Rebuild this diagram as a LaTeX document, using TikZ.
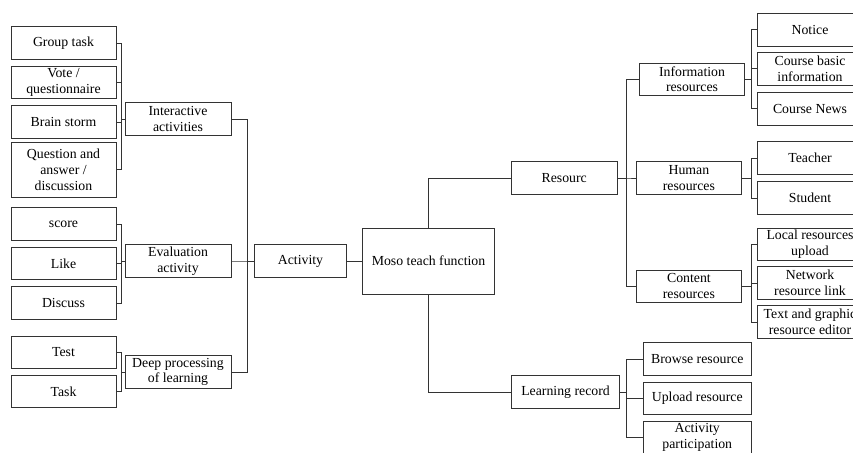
\documentclass[tikz,border=0pt]{standalone}
\usepackage{fontspec}
\setmainfont{Liberation Serif}
\begin{document}
\begin{tikzpicture}[x=1pt,y=-1pt,
	box/.style={draw=black!80, line width=0.8pt, align=center, inner sep=0pt,
		minimum height=32.6pt, font=\fontsize{13.8}{15.8}\selectfont},
	leaf/.style={box, minimum width=105pt},
	mid/.style={box, minimum width=106pt},
	link/.style={draw=black!80, line width=0.8pt}]
	\useasboundingbox (0,0) rectangle (853,452);
	% leaves on the left
	\foreach \n/\y/\t in {gtask/43/{Group task}, vote/82.5/{Vote /\\questionnaire},
		brain/122/{Brain storm}, score/224/{score}, like/263.5/{Like},
		discuss/303/{Discuss}, test/352.5/{Test}, task/391.5/{Task}}
		\node[leaf] (\n) at (63.5,\y) {\t};
	\node[leaf, minimum height=55pt] (qa) at (63.5,169.5) {Question and\\answer /\\discussion};
	% activity groups
	\node[mid] (inter) at (178,119) {Interactive\\activities};
	\node[mid] (evalact) at (178,261) {Evaluation\\activity};
	\node[mid] (deep) at (178,372) {Deep processing\\of learning};
	\node[box, minimum width=92.4pt, minimum height=33.4pt] (act) at (300.5,261) {Activity};
	% root
	\node[box, minimum width=131.6pt, minimum height=66pt] (moso) at (428.5,261) {Moso teach function};
	% resources and record
	\node[box, anchor=west, minimum width=105.7pt] (res) at (511,178) {Resourc};
	\node[box, anchor=west, minimum width=108.3pt] (learn) at (511,392) {Learning record};
	\node[box, anchor=west, minimum width=105.3pt] (info) at (639,79.2) {Information\\resources};
	\node[box, anchor=west, minimum width=105pt] (human) at (636,178) {Human\\resources};
	\node[box, anchor=west, minimum width=105pt] (content) at (636,286.3) {Content\\resources};
	\foreach \n/\y/\t in {browse/359/{Browse resource}, upload/398.3/{Upload resource},
		partic/437.5/{Activity\\participation}}
		\node[box, anchor=west, minimum width=108.3pt] (\n) at (642.7,\y) {\t};
	% leaves on the right
	\foreach \n/\y/\t in {notice/29.7/{Notice}, basic/68.7/{Course basic\\information},
		news/108.7/{Course News}, teacher/158/{Teacher}, student/197.9/{Student},
		local/244.3/{Local resources\\upload}, netlink/283/{Network\\resource link},
		editor/322/{Text and graphic\\resource editor}}
		\node[leaf] (\n) at (810,\y) {\t};
	% brackets on the left
	\foreach \c in {gtask,vote,brain,qa}
		\draw[link] (\c.east) -| ([xshift=-3pt]inter.west) -- (inter.west);
	\foreach \c in {score,like,discuss}
		\draw[link] (\c.east) -| ([xshift=-3pt]evalact.west) -- (evalact.west);
	\foreach \c in {test,task}
		\draw[link] (\c.east) -| ([xshift=-3pt]deep.west) -- (deep.west);
	\foreach \c in {inter,evalact,deep}
		\draw[link] (\c.east) -| ([xshift=-6.6pt]act.west) -- (act.west);
	% root links
	\draw[link] (act) -- (moso);
	\draw[link] (moso.north) |- (res.west);
	\draw[link] (moso.south) |- (learn.west);
	% brackets on the right
	\foreach \c in {info,human,content}
		\draw[link] (res.east) -- ++(9.3,0) |- (\c.west);
	\foreach \c in {browse,upload,partic}
		\draw[link] (learn.east) -- ++(6.7,0) |- (\c.west);
	\foreach \c in {notice,basic,news}
		\draw[link] (info.east) -| ([xshift=-6pt]\c.west) -- (\c.west);
	\foreach \c in {teacher,student}
		\draw[link] (human.east) -| ([xshift=-6pt]\c.west) -- (\c.west);
	\foreach \c in {local,netlink,editor}
		\draw[link] (content.east) -| ([xshift=-6pt]\c.west) -- (\c.west);
\end{tikzpicture}
\end{document}
